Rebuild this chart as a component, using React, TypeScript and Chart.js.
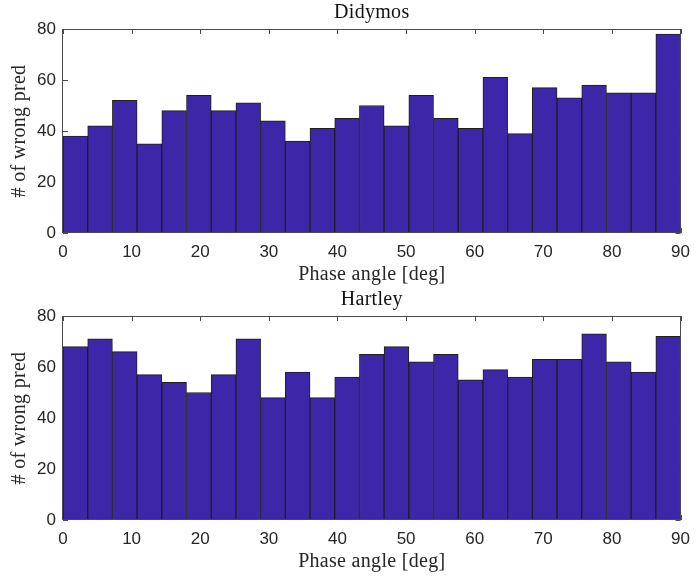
import React, { useEffect, useRef } from 'react';
import { Chart, registerables } from 'chart.js';

Chart.register(...registerables);

// Histogram bin edges (phase angle, deg) — 25 bins of 3.6 deg
const binEdges = [0, 3.6, 7.2, 10.8, 14.4, 18, 21.6, 25.2, 28.8, 32.4, 36, 39.6, 43.2, 46.8, 50.4, 54, 57.6, 61.2, 64.8, 68.4, 72, 75.6, 79.2, 82.8, 86.4, 90];
const didymosCounts = [38, 42, 52, 35, 48, 54, 48, 51, 44, 36, 41, 45, 50, 42, 54, 45, 41, 61, 39, 57, 53, 58, 55, 55, 78];
const hartleyCounts = [68, 71, 66, 57, 54, 50, 57, 71, 48, 58, 48, 56, 65, 68, 62, 65, 55, 59, 56, 63, 63, 73, 62, 58, 72];
const xTickValues = [0, 10, 20, 30, 40, 50, 60, 70, 80, 90];
const yTickValues = [0, 20, 40, 60, 80];
const panelTitles = ['Didymos', 'Hartley'];
const xAxisLabel = 'Phase angle [deg]';
const yAxisLabel = '# of wrong pred';

const BAR_COLOR = '#3E26A8';
const EDGE_COLOR = '#1f1f1f';
const AXIS_COLOR = '#4a4a4a';
const TEXT_COLOR = '#262626';
const SERIF = '"Liberation Serif", "DejaVu Serif", serif';
const SANS = '"Liberation Sans", Arial, sans-serif';

const framePlugin = {
  id: 'matlabFrame',
  beforeDatasetsDraw(chart: any) {
    const { ctx, chartArea: a, scales } = chart;
    const xs = scales.x;
    const ys = scales.y;
    const L = 5;
    ctx.save();
    ctx.strokeStyle = AXIS_COLOR;
    ctx.lineWidth = 1;
    ctx.beginPath();
    xTickValues.forEach((v) => {
      const px = Math.round(xs.getPixelForValue(v)) + 0.5;
      ctx.moveTo(px, a.bottom);
      ctx.lineTo(px, a.bottom - L);
      ctx.moveTo(px, a.top);
      ctx.lineTo(px, a.top + L);
    });
    yTickValues.forEach((v) => {
      const py = Math.round(ys.getPixelForValue(v)) + 0.5;
      ctx.moveTo(a.left, py);
      ctx.lineTo(a.left + L, py);
      ctx.moveTo(a.right, py);
      ctx.lineTo(a.right - L, py);
    });
    ctx.stroke();
    ctx.restore();
  },
  afterDraw(chart: any) {
    const { ctx, chartArea: a } = chart;
    const title = chart.options.plugins.matlabFrame.title;
    ctx.save();
    ctx.strokeStyle = AXIS_COLOR;
    ctx.lineWidth = 1;
    ctx.strokeRect(Math.round(a.left) - 0.5, Math.round(a.top) + 0.5, Math.round(a.right - a.left), Math.round(a.bottom - a.top) - 1);
    ctx.fillStyle = '#111';
    ctx.textAlign = 'center';
    ctx.textBaseline = 'middle';
    ctx.font = `20px ${SERIF}`;
    try { (ctx as any).letterSpacing = '0.3px'; } catch (e) {}
    const cx = (a.left + a.right) / 2;
    ctx.fillText(title, cx, a.top - 16);
    ctx.fillStyle = TEXT_COLOR;
    ctx.fillText(xAxisLabel, cx, a.bottom + 42);
    ctx.translate(20, (a.top + a.bottom) / 2);
    ctx.rotate(-Math.PI / 2);
    ctx.fillText(yAxisLabel, 0, 0);
    ctx.restore();
  },
};

function Histogram({ counts, title, topPad, xHeight }: { counts: number[]; title: string; topPad: number; xHeight: number }) {
  const ref = useRef<HTMLCanvasElement>(null);
  useEffect(() => {
    if (!ref.current) return;
    const data = counts.map((c, i) => ({ x: (binEdges[i] + binEdges[i + 1]) / 2, y: c }));
    const chart = new Chart(ref.current, {
      type: 'bar',
      data: {
        datasets: [
          {
            data,
            backgroundColor: BAR_COLOR,
            borderColor: EDGE_COLOR,
            borderWidth: 1,
            borderSkipped: false,
            barPercentage: 1,
            categoryPercentage: 1,
          } as any,
        ],
      },
      options: {
        responsive: false,
        animation: false,
        devicePixelRatio: 1,
        layout: { padding: { left: 0, top: topPad, right: 11, bottom: 0 } },
        plugins: {
          legend: { display: false },
          tooltip: { enabled: false },
          title: { display: false },
          matlabFrame: { title },
        } as any,
        scales: {
          x: {
            type: 'linear',
            min: 0,
            max: 90,
            offset: false,
            grid: { display: false, drawTicks: false, tickLength: 0 },
            border: { display: false },
            afterBuildTicks: (s: any) => {
              s.ticks = xTickValues.map((v) => ({ value: v }));
            },
            afterFit: (s: any) => {
              s.height = xHeight;
            },
            ticks: {
              autoSkip: false,
              maxRotation: 0,
              padding: 9,
              color: TEXT_COLOR,
              font: { family: SANS, size: 17 },
            },
          },
          y: {
            type: 'linear',
            min: 0,
            max: 80,
            grid: { display: false, drawTicks: false, tickLength: 0 },
            border: { display: false },
            afterBuildTicks: (s: any) => {
              s.ticks = yTickValues.map((v) => ({ value: v }));
            },
            afterFit: (s: any) => {
              s.width = 63;
            },
            ticks: {
              padding: 7,
              color: TEXT_COLOR,
              font: { family: SANS, size: 17 },
            },
          },
        },
      } as any,
      plugins: [framePlugin],
    });
    return () => chart.destroy();
  }, [counts, title, topPad, xHeight]);
  return <canvas ref={ref} width={699} height={288} style={{ display: 'block', width: 699, height: 288 }} />;
}

export default function App() {
  return (
    <div style={{ position: 'absolute', left: 0, top: 0, width: 699, height: 576, background: '#fff' }}>
      <Histogram counts={didymosCounts} title={panelTitles[0]} topPad={29} xHeight={55} />
      <Histogram counts={hartleyCounts} title={panelTitles[1]} topPad={28} xHeight={56} />
    </div>
  );
}
